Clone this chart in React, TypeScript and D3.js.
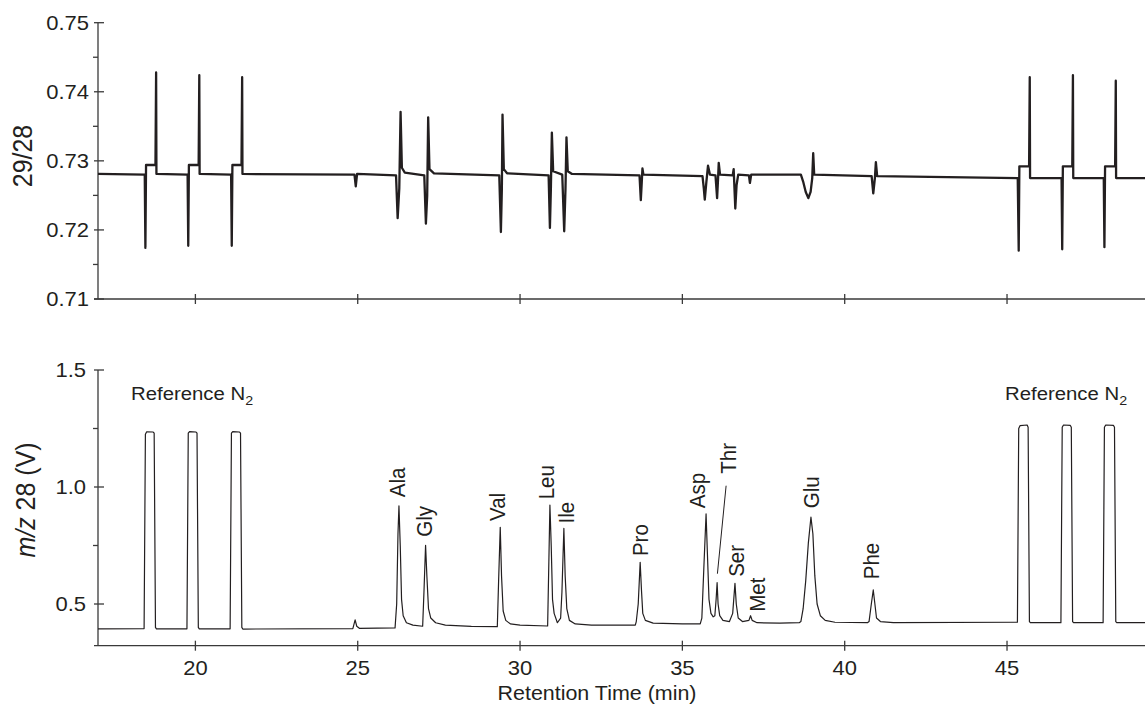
import React from "react";
import * as d3 from "d3";

// ---------- DATA ----------
// 29/28 ratio trace: [time (min), ratio]
const ratioTrace: [number, number][] = [
  [17.0, 0.7281], [18.44, 0.728], [18.46, 0.7174], [18.48, 0.7294], [18.77, 0.7294], [18.79, 0.7428], [18.8, 0.7281],
  [19.76, 0.728], [19.78, 0.7177], [19.8, 0.7294], [20.1, 0.7294], [20.12, 0.7424], [20.13, 0.7281],
  [21.1, 0.728], [21.12, 0.7177], [21.14, 0.7294], [21.42, 0.7294], [21.44, 0.7421], [21.45, 0.7281],
  [24.9, 0.728], [24.94, 0.7263], [24.98, 0.7281],
  [26.18, 0.7279], [26.23, 0.7217], [26.28, 0.726], [26.32, 0.7371], [26.36, 0.729], [26.45, 0.7283],
  [27.05, 0.7279], [27.1, 0.7209], [27.14, 0.725], [27.17, 0.7363], [27.21, 0.7288], [27.35, 0.7282],
  [29.36, 0.7279], [29.41, 0.7197], [29.44, 0.726], [29.46, 0.7367], [29.5, 0.7288], [29.6, 0.7282],
  [30.88, 0.7279], [30.92, 0.7203], [30.95, 0.726], [30.98, 0.7341], [31.02, 0.7285],
  [31.3, 0.728], [31.36, 0.7198], [31.4, 0.726], [31.43, 0.7334], [31.47, 0.7285], [31.6, 0.7281],
  [33.68, 0.7279], [33.72, 0.7243], [33.75, 0.727], [33.77, 0.7289], [33.8, 0.728],
  [35.62, 0.7278], [35.66, 0.726], [35.69, 0.7244], [35.74, 0.727], [35.79, 0.7293], [35.85, 0.728],
  [36.02, 0.7279], [36.07, 0.7246], [36.1, 0.7275], [36.12, 0.7297], [36.16, 0.728],
  [36.55, 0.7279], [36.58, 0.7288], [36.63, 0.7231], [36.67, 0.7265], [36.72, 0.728],
  [37.05, 0.7279], [37.08, 0.7268], [37.12, 0.728],
  [38.65, 0.728], [38.72, 0.727], [38.8, 0.7255], [38.88, 0.7246], [38.95, 0.7255], [39.0, 0.7275], [39.03, 0.7311], [39.06, 0.728],
  [40.83, 0.7278], [40.88, 0.7253], [40.93, 0.7275], [40.96, 0.7298], [41.0, 0.7278],
  [45.33, 0.7275], [45.36, 0.717], [45.38, 0.7292], [45.68, 0.7292], [45.7, 0.7421], [45.71, 0.7275],
  [46.68, 0.7275], [46.7, 0.7172], [46.72, 0.7292], [47.01, 0.7292], [47.03, 0.7424], [47.04, 0.7275],
  [47.98, 0.7275], [48.0, 0.7175], [48.02, 0.7292], [48.33, 0.7292], [48.35, 0.7416], [48.36, 0.7275],
  [49.3, 0.7275],
];

// m/z 28 trace: [time (min), volts]
const intensityTrace: [number, number][] = [
  [17.0, 0.394], [18.42, 0.395], [18.46, 1.225], [18.5, 1.236], [18.7, 1.235], [18.73, 1.23], [18.77, 0.4], [18.8, 0.394],
  [19.74, 0.394], [19.78, 1.23], [19.82, 1.237], [20.02, 1.235], [20.05, 1.23], [20.09, 0.4], [20.12, 0.394],
  [21.07, 0.394], [21.11, 1.23], [21.15, 1.237], [21.36, 1.235], [21.39, 1.23], [21.43, 0.4], [21.46, 0.393],
  [24.85, 0.395], [24.92, 0.432], [24.97, 0.405], [25.05, 0.396], [26.15, 0.398],
  [26.2, 0.5], [26.24, 0.8], [26.27, 0.919], [26.31, 0.75], [26.35, 0.52], [26.4, 0.45], [26.5, 0.42], [26.7, 0.41], [27.0, 0.405],
  [27.04, 0.55], [27.09, 0.751], [27.13, 0.62], [27.18, 0.48], [27.25, 0.44], [27.4, 0.42], [27.7, 0.41], [28.5, 0.404], [29.3, 0.403],
  [29.34, 0.6], [29.39, 0.828], [29.43, 0.62], [29.48, 0.47], [29.56, 0.43], [29.7, 0.415], [30.0, 0.41], [30.85, 0.406],
  [30.89, 0.7], [30.92, 0.923], [30.96, 0.75], [31.0, 0.52], [31.05, 0.46], [31.15, 0.42], [31.25, 0.44],
  [31.29, 0.55], [31.35, 0.823], [31.39, 0.62], [31.44, 0.48], [31.52, 0.43], [31.7, 0.415], [32.2, 0.41], [33.55, 0.41],
  [33.58, 0.425], [33.64, 0.5], [33.7, 0.678], [33.74, 0.56], [33.78, 0.46], [33.86, 0.43], [34.1, 0.418], [35.0, 0.415], [35.55, 0.415],
  [35.6, 0.44], [35.66, 0.65], [35.73, 0.885], [35.77, 0.72], [35.82, 0.52], [35.88, 0.46], [35.95, 0.445], [36.0, 0.45],
  [36.04, 0.52], [36.07, 0.591], [36.1, 0.5], [36.15, 0.45], [36.25, 0.43], [36.45, 0.425],
  [36.55, 0.46], [36.62, 0.588], [36.66, 0.5], [36.72, 0.44], [36.85, 0.425], [37.05, 0.43], [37.1, 0.45], [37.15, 0.43],
  [37.3, 0.42], [38.0, 0.418], [38.6, 0.42],
  [38.65, 0.425], [38.72, 0.48], [38.8, 0.6], [38.88, 0.76], [38.96, 0.871], [39.02, 0.8], [39.08, 0.62], [39.15, 0.5], [39.25, 0.45], [39.4, 0.43], [39.7, 0.422], [40.7, 0.42],
  [40.75, 0.425], [40.82, 0.5], [40.88, 0.56], [40.93, 0.5], [40.98, 0.44], [41.1, 0.425], [41.5, 0.42], [45.3, 0.422],
  [45.32, 0.422], [45.36, 1.25], [45.4, 1.262], [45.62, 1.265], [45.65, 1.255], [45.69, 0.425], [45.72, 0.42],
  [46.66, 0.42], [46.7, 1.255], [46.74, 1.265], [46.95, 1.263], [46.98, 1.255], [47.02, 0.425], [47.05, 0.42],
  [47.96, 0.42], [48.0, 1.255], [48.04, 1.265], [48.28, 1.263], [48.31, 1.255], [48.35, 0.425], [48.38, 0.42],
  [49.3, 0.42],
];

const peakNames = ["Ala", "Gly", "Val", "Leu", "Ile", "Pro", "Asp", "Thr", "Ser", "Met", "Glu", "Phe"];
const peakTimes = [26.27, 27.09, 29.39, 30.92, 31.35, 33.7, 35.73, 36.07, 36.62, 37.1, 38.96, 40.88];
const peakApex = [0.919, 0.751, 0.828, 0.923, 0.823, 0.678, 0.885, 0.591, 0.588, 0.45, 0.871, 0.56];

const xTicks = [20, 25, 30, 35, 40, 45];
const topMajorTicks = [0.71, 0.72, 0.73, 0.74, 0.75];
const topMinorTicks = [0.715, 0.725, 0.735, 0.745];
const botMajorTicks = [0.5, 1.0, 1.5];
const botMinorTicks = [0.75, 1.25];

// ---------- LAYOUT ----------
const W = 1145;
const H = 707;
const INK = "#231f20";
const AXIS = "#3a3a3a";
const SX = 1.1;
const FONT = "'Liberation Sans', Arial, Helvetica, sans-serif";
// label offsets [dx, dy] from peak apex in pixels (Thr handled with leader)
const labelOffsets: [number, number][] = [
  [5.6, -8.7], [6.6, -8.6], [5, -6.3], [4, -5.7], [10, -5], [8, -6.3], [-1, -5.7], [19, -109], [9, -6.6], [14, -4], [8, -9], [5.7, -10.7],
];

const x = d3.scaleLinear().domain([17, 49.25]).range([98, 1145]);
const yTop = d3.scaleLinear().domain([0.71, 0.75]).range([299, 22.7]);
const yBot = d3.scaleLinear().domain([0.3218, 1.5]).range([645.7, 370]);

const lineTop = d3.line<[number, number]>().x((d) => x(d[0])).y((d) => yTop(d[1]));
const lineBot = d3.line<[number, number]>().x((d) => x(d[0])).y((d) => yBot(d[1]));

function T({ x: tx, y: ty, size, anchor = "start", rotate = false, children, italic }: any) {
  const tr = `translate(${tx},${ty}) scale(${SX},1)${rotate ? " rotate(-90)" : ""}`;
  return (
    <text transform={tr} fontSize={size} textAnchor={anchor} fill={INK} fontFamily={FONT} fontStyle={italic ? "italic" : "normal"}>
      {children}
    </text>
  );
}

function YAxis({ scale, major, minor, fmt, labelRight, x0 }: any) {
  const [r0, r1] = scale.range();
  return (
    <g>
      <line x1={x0} x2={x0} y1={r1} y2={r0} stroke={AXIS} strokeWidth={1.3} />
      {major.map((v: number) => (
        <g key={"M" + v}>
          <line x1={x0 - 4} x2={x0 + 6} y1={scale(v)} y2={scale(v)} stroke={AXIS} strokeWidth={1.3} />
          <T x={labelRight} y={scale(v) + 7} size={20} anchor="end">{fmt(v)}</T>
        </g>
      ))}
      {minor.map((v: number) => (
        <line key={"m" + v} x1={x0 - 5} x2={x0} y1={scale(v)} y2={scale(v)} stroke={AXIS} strokeWidth={1.3} />
      ))}
    </g>
  );
}

function XAxis({ y0, labels }: any) {
  return (
    <g>
      <line x1={94} x2={W} y1={y0} y2={y0} stroke={AXIS} strokeWidth={1.3} />
      {xTicks.map((t) => (
        <g key={t}>
          <line x1={x(t)} x2={x(t)} y1={y0 - 5} y2={y0 + 5} stroke={AXIS} strokeWidth={1.3} />
          {labels && <T x={x(t)} y={y0 + 29} size={20} anchor="middle">{t}</T>}
        </g>
      ))}
    </g>
  );
}

export default function App() {
  const thrIdx = peakNames.indexOf("Thr");
  return (
    <svg width={W} height={H} style={{ position: "absolute", left: 0, top: 0, background: "#fff" }}>
      <rect width={W} height={H} fill="#fff" />
      {/* Top panel */}
      <YAxis scale={yTop} major={topMajorTicks} minor={topMinorTicks} fmt={(v: number) => v.toFixed(2)} labelRight={89} x0={98} />
      <XAxis y0={299} labels={false} />
      <path d={lineTop(ratioTrace) || ""} fill="none" stroke={INK} strokeWidth={2.3} strokeLinejoin="round" />
      <T x={32} y={156} size={25} anchor="middle" rotate>29/28</T>

      {/* Bottom panel */}
      <YAxis scale={yBot} major={botMajorTicks} minor={botMinorTicks} fmt={(v: number) => v.toFixed(1)} labelRight={86} x0={98} />
      <XAxis y0={645.7} labels />
      <path d={lineBot(intensityTrace) || ""} fill="none" stroke={INK} strokeWidth={1.2} strokeLinejoin="round" />
      <text transform={`translate(35,500) scale(${SX},1) rotate(-90)`} fontSize={25} textAnchor="middle" fill={INK} fontFamily={FONT}>
        <tspan fontStyle="italic">m/z</tspan> 28 (V)
      </text>
      <T x={597} y={700} size={19.5} anchor="middle">Retention Time (min)</T>

      {[131, 1005].map((lx) => (
        <text key={lx} transform={`translate(${lx},400) scale(${SX},1)`} fontSize={18.5} fill={INK} fontFamily={FONT}>
          Reference N<tspan fontSize={13} dy={5}>2</tspan>
        </text>
      ))}

      {peakNames.map((n, i) => {
        const px = x(peakTimes[i]) + labelOffsets[i][0];
        const py = yBot(peakApex[i]) + labelOffsets[i][1];
        return <T key={n} x={px} y={py} size={20.5} rotate>{n}</T>;
      })}
      <line
        x1={x(peakTimes[thrIdx]) + 9}
        y1={yBot(peakApex[thrIdx]) - 97}
        x2={x(peakTimes[thrIdx]) + 0.3}
        y2={yBot(peakApex[thrIdx]) - 9}
        stroke={INK}
        strokeWidth={1}
      />
    </svg>
  );
}
